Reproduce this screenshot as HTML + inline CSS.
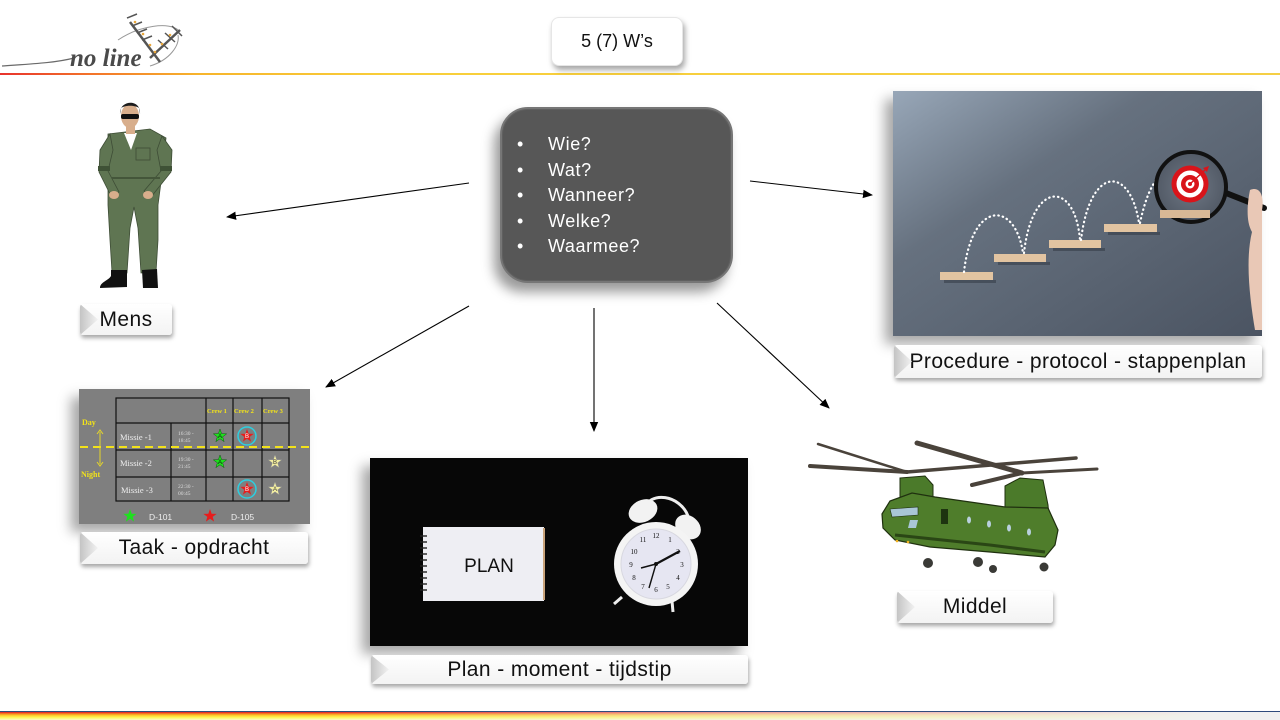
<!DOCTYPE html>
<html><head><meta charset="utf-8">
<style>
body{margin:0;}
#p{position:relative;width:1280px;height:720px;background:#fff;overflow:hidden;font-family:"Liberation Sans",sans-serif;}
.frame{position:absolute;box-shadow:-8px 8px 12px rgba(0,0,0,.35);z-index:1;}
.lbl{position:absolute;background:linear-gradient(#ffffff,#f3f3f3);border-radius:3px;box-shadow:1px 3px 4px rgba(0,0,0,.35);font-size:21px;letter-spacing:.4px;color:#111;text-align:center;z-index:3;overflow:hidden;white-space:nowrap}
.lbl:before{content:"";position:absolute;left:0;top:0;bottom:0;width:18px;background:linear-gradient(to right,#c4c4c4,#f2f2f2);clip-path:polygon(0 0,100% 50%,0 100%);}
#svg{position:absolute;left:0;top:0;z-index:2;}
</style></head>
<body><div id="p">

<!-- header line -->
<div style="position:absolute;left:0;top:73px;width:1280px;height:2px;background:linear-gradient(to right,#e8322c 0,#f3732a 90px,#f7b52c 200px,#f8cf3a 400px,#f5cf45 1280px);"></div>

<!-- title -->
<div style="position:absolute;left:551px;top:17px;width:132px;height:49px;background:#fff;border-radius:8px;box-shadow:2px 4px 6px rgba(0,0,0,.35);border:1px solid #e6e6e6;box-sizing:border-box;text-align:center;line-height:47px;font-size:18px;color:#111;z-index:3;">5 (7) W’s</div>

<!-- footer -->
<div style="position:absolute;left:0;top:711px;width:1280px;height:1px;background:#2f4b7c;"></div>
<div style="position:absolute;left:0;top:712px;width:1280px;height:8px;background:linear-gradient(to right,rgba(240,240,240,0) 0,rgba(240,240,240,0) 25%,rgba(240,240,240,.6) 60%,rgba(240,240,240,1) 95%),linear-gradient(to bottom,#e3142b 0,#f4721f 18%,#ffc62a 40%,#fff34f 65%,#fffbc8 100%);"></div>

<!-- central box -->
<div style="position:absolute;left:500px;top:107px;width:233px;height:176px;box-sizing:border-box;border-radius:28px;background:#575757;border:2px solid #767676;box-shadow:-6px 9px 12px rgba(0,0,0,.4), inset 0 0 0 1px #5f5f5f;z-index:3;color:#fff;font-size:18px;letter-spacing:.6px;">
  <div style="position:absolute;left:15px;top:23px;line-height:25.5px;">
    <div><span style="display:inline-block;width:31px;">•</span>Wie?</div>
    <div><span style="display:inline-block;width:31px;">•</span>Wat?</div>
    <div><span style="display:inline-block;width:31px;">•</span>Wanneer?</div>
    <div><span style="display:inline-block;width:31px;">•</span>Welke?</div>
    <div><span style="display:inline-block;width:31px;">•</span>Waarmee?</div>
  </div>
</div>

<!-- frames -->
<div class="frame" style="left:893px;top:91px;width:369px;height:245px;background:#5d6776;"></div>
<div class="frame" style="left:79px;top:389px;width:231px;height:135px;background:#7f7f7f;"></div>
<div class="frame" style="left:370px;top:458px;width:378px;height:188px;background:#050505;"></div>

<svg id="svg" width="1280" height="720" viewBox="0 0 1280 720" xmlns="http://www.w3.org/2000/svg">
<defs>
  <marker id="ah" markerWidth="10" markerHeight="10" refX="9" refY="5" orient="auto" markerUnits="userSpaceOnUse">
    <path d="M0,0.8 L10,5 L0,9.2 Z" fill="#000"/>
  </marker>
  <polygon id="star" points="0,-7 1.65,-2.27 6.66,-2.16 2.66,0.87 4.11,5.66 0,2.8 -4.11,5.66 -2.66,0.87 -6.66,-2.16 -1.65,-2.27"/>
  <linearGradient id="procbg" x1="0" y1="0" x2="1" y2="1">
    <stop offset="0" stop-color="#98a7b8"/>
    <stop offset="0.35" stop-color="#66717f"/>
    <stop offset="1" stop-color="#4b5462"/>
  </linearGradient>
  <radialGradient id="glass" cx="0.5" cy="0.5" r="0.5">
    <stop offset="0" stop-color="#6f7885"/>
    <stop offset="1" stop-color="#525a66"/>
  </radialGradient>
</defs>

<!-- logo -->
<g fill="none" stroke="#6a6a6a">
  <path d="M2,66 C30,64 55,63 74,58" stroke-width="1.2"/>
  <path d="M118,40 C140,25 170,22 178,30" stroke-width="1" stroke="#999"/>
  <path d="M150,66 C170,60 180,45 178,35" stroke-width="1" stroke="#999"/>
  <path d="M130,22 L160,62" stroke-width="2.5" stroke="#555"/>
  <path d="M127,18 L137,14 M132,26 L142,22 M137,33 L147,29 M142,40 L152,36" stroke-width="1.5" stroke="#555"/>
  <path d="M180,30 L150,58" stroke-width="2.5" stroke="#555"/>
  <path d="M172,26 L182,36 M165,33 L175,42 M158,40 L168,49" stroke-width="1.5" stroke="#555"/>
</g>
<g fill="#e8a63a"><circle cx="135" cy="22" r="1.3"/><circle cx="143" cy="34" r="1.3"/><circle cx="150" cy="45" r="1.3"/><circle cx="170" cy="35" r="1.3"/><circle cx="162" cy="44" r="1.3"/><circle cx="155" cy="52" r="1.3"/></g>
<text x="70" y="66" font-family="Liberation Serif" font-style="italic" font-weight="bold" font-size="25" fill="#4a4a4a">no line</text>

<!-- arrows -->
<g stroke="#000" stroke-width="1.1" fill="none">
  <line x1="469" y1="183" x2="227" y2="217" marker-end="url(#ah)"/>
  <line x1="750" y1="181" x2="872" y2="195" marker-end="url(#ah)"/>
  <line x1="469" y1="306" x2="326" y2="387" marker-end="url(#ah)"/>
  <line x1="594" y1="308" x2="594" y2="431" marker-end="url(#ah)"/>
  <line x1="717" y1="303" x2="829" y2="408" marker-end="url(#ah)"/>
</g>

<!-- pilot -->
<g>
  <path d="M108,134 L150,129 L166,138 L161,182 L158,205 L158,240 L156,272 L141,273 L138,228 L134,207 L130,228 L127,273 L112,272 L110,240 L108,205 L108,182 Z" fill="#5f7552" stroke="#3e4d36" stroke-width="0.8"/>
  <path d="M110,134 L100,150 L99,172 L111,196 L119,192 L108,171 L113,150 Z" fill="#5f7552" stroke="#3e4d36" stroke-width="0.8"/>
  <path d="M162,136 L172,150 L171,172 L151,197 L144,191 L161,171 L157,150 Z" fill="#5f7552" stroke="#3e4d36" stroke-width="0.8"/>
  <rect x="98" y="166" width="12" height="5" fill="#3f5236"/>
  <rect x="160" y="166" width="12" height="5" fill="#3f5236"/>
  <path d="M112,178 L160,178" stroke="#44563a" stroke-width="2"/>
  <rect x="136" y="148" width="14" height="12" fill="none" stroke="#3e4d36" stroke-width="0.8"/>
  <path d="M124,133 L131,150 L137,133 Z" fill="#fff"/>
  <ellipse cx="114" cy="195" rx="5" ry="4" fill="#d8ae8c"/>
  <ellipse cx="148" cy="195" rx="5" ry="4" fill="#d8ae8c"/>
  <rect x="126" y="122" width="9" height="12" fill="#d8ae8c"/>
  <ellipse cx="130" cy="116" rx="9" ry="12" fill="#d8ae8c"/>
  <path d="M120,114 C119,100 141,98 140,114 L139,108 C135,105 125,105 121,108 Z" fill="#1d1d1d"/>
  <rect x="121" y="114" width="18" height="5" rx="2" fill="#111"/>
  <path d="M111,270 L127,270 L127,287 L100,288 C100,282 108,281 111,276 Z" fill="#111"/>
  <path d="M142,270 L157,269 L158,288 L143,288 Z" fill="#111"/>
</g>

<!-- procedure image -->
<rect x="893" y="91" width="369" height="245" fill="url(#procbg)"/>
<g fill="#e2c4a1">
  <rect x="940" y="272" width="53" height="8"/>
  <rect x="994" y="254" width="52" height="8"/>
  <rect x="1049" y="240" width="52" height="8"/>
  <rect x="1104" y="224" width="53" height="8"/>
</g>
<g fill="#2f3640" opacity=".5">
  <rect x="944" y="280" width="52" height="3"/>
  <rect x="998" y="262" width="52" height="3"/>
  <rect x="1053" y="248" width="52" height="3"/>
  <rect x="1108" y="232" width="52" height="3"/>
</g>
<g fill="none" stroke="#fff" stroke-width="2.2" stroke-dasharray="0.5 4" stroke-linecap="round">
  <path d="M964,272 C972,200 1015,200 1023,253"/>
  <path d="M1024,253 C1032,180 1075,180 1080,240"/>
  <path d="M1081,240 C1090,165 1130,165 1139,223"/>
  <path d="M1140,223 C1148,185 1160,170 1174,168"/>
</g>
<path d="M1226,193 L1264,208" stroke="#111" stroke-width="6" stroke-linecap="round"/>
<path d="M1250,190 C1262,185 1264,200 1262,210 L1262,330 L1255,330 C1250,300 1245,260 1252,232 C1245,220 1248,200 1250,190 Z" fill="#e9c8b6"/>
<circle cx="1191" cy="187" r="35" fill="url(#glass)" stroke="#111" stroke-width="4"/>
<rect x="1160" y="210" width="50" height="8" fill="#d8b896"/>
<circle cx="1190" cy="184" r="18.5" fill="#d9141a"/>
<circle cx="1190" cy="184" r="13.5" fill="#fff"/>
<circle cx="1190" cy="184" r="9" fill="#d9141a"/>
<circle cx="1190" cy="184" r="4.5" fill="#fff"/>
<circle cx="1190" cy="184" r="2" fill="#d9141a"/>
<path d="M1190,184 L1205,170" stroke="#d9141a" stroke-width="1.5"/>
<path d="M1203,168 L1209,166 L1207,172" fill="#d9141a"/>

<!-- taak image -->
<g stroke="#111" stroke-width="1.2" fill="none">
  <rect x="116" y="398" width="173" height="103"/>
  <line x1="116" y1="423" x2="289" y2="423"/>
  <line x1="116" y1="450" x2="289" y2="450"/>
  <line x1="116" y1="477" x2="289" y2="477"/>
  <line x1="171" y1="423" x2="171" y2="501"/>
  <line x1="206" y1="398" x2="206" y2="501"/>
  <line x1="233" y1="398" x2="233" y2="501"/>
  <line x1="262" y1="398" x2="262" y2="501"/>
</g>
<line x1="80" y1="447" x2="310" y2="447" stroke="#f2e21a" stroke-width="2" stroke-dasharray="8 5"/>
<line x1="100" y1="432" x2="100" y2="464" stroke="#e6d62a" stroke-width="1"/>
<path d="M97,434 L100,430 L103,434 M97,462 L100,466 L103,462" stroke="#e6d62a" fill="none"/>
<g font-family="Liberation Serif" font-weight="bold" fill="#f2e21a" font-size="8">
  <text x="82" y="425">Day</text>
  <text x="81" y="477">Night</text>
  <text x="207" y="413" font-size="6.5">Crew 1</text>
  <text x="234" y="413" font-size="6.5">Crew 2</text>
  <text x="263" y="413" font-size="6.5">Crew 3</text>
</g>
<g font-family="Liberation Serif" fill="#eee" font-size="8.5">
  <text x="120" y="440">Missie -1</text>
  <text x="120" y="466">Missie -2</text>
  <text x="121" y="493">Missie -3</text>
</g>
<g font-family="Liberation Serif" fill="#ddd" font-size="5.5">
  <text x="178" y="435">16:30 -</text><text x="178" y="442">18:45</text>
  <text x="178" y="461">19:30 -</text><text x="178" y="468">21:45</text>
  <text x="178" y="488">22:30 -</text><text x="178" y="495">00:45</text>
</g>
<use href="#star" x="220" y="436" fill="#1ee01e" stroke="#0a5a0a" stroke-width=".5"/>
<use href="#star" x="220" y="462" fill="#1ee01e" stroke="#0a5a0a" stroke-width=".5"/>
<circle cx="247" cy="436" r="9" fill="none" stroke="#2ccfe0" stroke-width="1.5"/>
<use href="#star" x="247" y="436" fill="#e81c1c"/>
<circle cx="247" cy="489" r="9" fill="none" stroke="#2ccfe0" stroke-width="1.5"/>
<use href="#star" x="247" y="489" fill="#e81c1c"/>
<use href="#star" x="275" y="462" fill="#f5f0a0" stroke="#999" stroke-width=".5"/>
<use href="#star" x="275" y="489" fill="#f5f0a0" stroke="#999" stroke-width=".5"/>
<g font-family="Liberation Sans" font-size="6" text-anchor="middle">
  <text x="220" y="438" fill="#111">A</text><text x="220" y="464" fill="#111">A</text>
  <text x="247" y="438" fill="#fff">B</text><text x="247" y="491" fill="#fff">B</text>
  <text x="275" y="464" fill="#333">B</text><text x="275" y="491" fill="#333">A</text>
</g>
<use href="#star" x="130" y="516" fill="#1ee01e"/>
<use href="#star" x="210" y="516" fill="#e81c1c"/>
<g font-family="Liberation Sans" font-size="8.5" fill="#eee">
  <text x="149" y="520">D-101</text>
  <text x="231" y="520">D-105</text>
</g>

<!-- plan image -->
<rect x="370" y="458" width="378" height="188" fill="#070707"/>
<rect x="423" y="527" width="121" height="74" fill="#eeeef3"/>
<rect x="543" y="528" width="2" height="72" fill="#c8a27a"/>
<g stroke="#222" stroke-width="1.4">
  <line x1="420" y1="536" x2="427" y2="536"/><line x1="420" y1="542" x2="427" y2="542"/>
  <line x1="420" y1="548" x2="427" y2="548"/><line x1="420" y1="554" x2="427" y2="554"/>
  <line x1="420" y1="560" x2="427" y2="560"/><line x1="420" y1="566" x2="427" y2="566"/>
  <line x1="420" y1="572" x2="427" y2="572"/><line x1="420" y1="578" x2="427" y2="578"/>
  <line x1="420" y1="584" x2="427" y2="584"/><line x1="420" y1="590" x2="427" y2="590"/>
</g>
<text x="489" y="572" text-anchor="middle" font-family="Liberation Sans" font-size="19" fill="#111">PLAN</text>
<!-- clock -->
<path d="M643,510 C650,490 680,495 688,516" fill="none" stroke="#eee" stroke-width="3"/>
<ellipse cx="643" cy="511" rx="15" ry="11" fill="#f2f2f2" transform="rotate(-25 643 511)"/>
<ellipse cx="688" cy="527" rx="14" ry="11" fill="#f2f2f2" transform="rotate(40 688 527)"/>
<line x1="622" y1="597" x2="614" y2="604" stroke="#eee" stroke-width="3"/>
<line x1="672" y1="601" x2="673" y2="612" stroke="#eee" stroke-width="3"/>
<circle cx="656" cy="564" r="42" fill="#f4f4f4"/>
<circle cx="656" cy="564" r="35" fill="#e6e6f2" stroke="#d8d8e0" stroke-width="1"/>
<g font-family="Liberation Serif" font-size="7" fill="#111" text-anchor="middle">
  <text x="656" y="538">12</text><text x="670" y="542">1</text><text x="678" y="554">2</text>
  <text x="682" y="567">3</text><text x="678" y="580">4</text><text x="668" y="589">5</text>
  <text x="656" y="592">6</text><text x="643" y="589">7</text><text x="634" y="580">8</text>
  <text x="631" y="567">9</text><text x="634" y="554">10</text><text x="643" y="542">11</text>
</g>
<path d="M656,564 L680,551" stroke="#111" stroke-width="2.2"/>
<path d="M656,564 L641,568" stroke="#111" stroke-width="1.6"/>
<path d="M656,564 L649,588" stroke="#111" stroke-width="1.4"/>
<circle cx="656" cy="564" r="2" fill="#111"/>

<!-- helicopter -->
<g stroke="#2e2a25" stroke-linecap="round">
  <line x1="810" y1="466" x2="907" y2="472" stroke-width="4" stroke="#4a433b"/>
  <line x1="818" y1="444" x2="907" y2="472" stroke-width="2.5" stroke="#4a433b"/>
  <line x1="907" y1="472" x2="1076" y2="458" stroke-width="3.5" stroke="#4a433b"/>
  <line x1="917" y1="443" x2="1022" y2="473" stroke-width="5" stroke="#4a433b"/>
  <line x1="972" y1="485" x2="1022" y2="473" stroke-width="4" stroke="#4a433b"/>
  <line x1="1022" y1="473" x2="1097" y2="469" stroke-width="3" stroke="#4a433b"/>
</g>
<path d="M900,478 L925,476 L933,485 L933,500 L900,500 Z" fill="#4b7a2a" stroke="#1f300f" stroke-width="1"/>
<path d="M1005,486 L1020,478 L1043,480 L1048,505 L1050,530 L1005,520 Z" fill="#4b7a2a" stroke="#1f300f" stroke-width="1"/>
<path d="M882,514 L890,501 L912,493 L935,497 L1005,507 L1048,508 L1058,530 L1055,545 L1045,557 L990,552 L930,547 L895,540 L883,528 Z" fill="#4f7d2b" stroke="#1f300f" stroke-width="1.2"/>
<path d="M895,535 L990,545 L1045,552" fill="none" stroke="#2a4615" stroke-width="3"/>
<path d="M890,509 L918,507 L918,515 L892,517 Z" fill="#a9c6d6" stroke="#1f300f" stroke-width=".6"/>
<path d="M910,520 L918,520 L916,528 L908,528 Z" fill="#a9c6d6"/>
<rect x="941" y="509" width="7" height="15" fill="#1e3410"/>
<g fill="#b9d0de"><ellipse cx="969" cy="520" rx="2" ry="3.5"/><ellipse cx="989" cy="524" rx="2" ry="3.5"/><ellipse cx="1009" cy="528" rx="2" ry="3.5"/><ellipse cx="1029" cy="532" rx="2" ry="3.5"/></g>
<g fill="#3a3a36"><circle cx="928" cy="563" r="5"/><circle cx="978" cy="562" r="5"/><circle cx="993" cy="569" r="4"/><circle cx="1044" cy="567" r="4.5"/></g>
<g fill="#f0b020"><circle cx="897" cy="541" r="1.3"/><circle cx="908" cy="542" r="1.3"/></g>
</svg>

<!-- labels -->
<div class="lbl" style="left:80px;top:304px;width:92px;height:31px;line-height:31px;">Mens</div>
<div class="lbl" style="left:894px;top:345px;width:368px;height:33px;line-height:33px;">Procedure - protocol - stappenplan</div>
<div class="lbl" style="left:80px;top:532px;width:228px;height:32px;line-height:32px;">Taak - opdracht</div>
<div class="lbl" style="left:371px;top:655px;width:377px;height:29px;line-height:29px;">Plan - moment - tijdstip</div>
<div class="lbl" style="left:897px;top:591px;width:156px;height:32px;line-height:32px;">Middel</div>

</div></body></html>
